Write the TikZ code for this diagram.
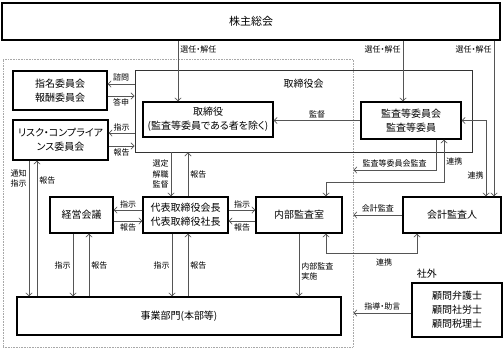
\documentclass[tikz,border=0pt]{standalone}
\usepackage{fontspec}
\setmainfont[RawFeature=+palt]{Noto Sans CJK JP}
\usepackage{xcolor}
\usetikzlibrary{positioning, arrows.meta}
\definecolor{linkgray}{HTML}{555555}
\definecolor{framegray}{HTML}{A8A8A8}
\tikzset{
  orgbox/.style={draw=black, line width=1.1pt, fill=white, align=center, inner sep=0pt,
    font=\fontsize{10}{14}\selectfont},
  link/.style={draw=linkgray, line width=0.7pt, -{Straight Barb[length=3.2pt,width=6.5pt]}},
  link2/.style={link, {Straight Barb[length=3.2pt,width=6.5pt]}-{Straight Barb[length=3.2pt,width=6.5pt]}},
  linklbl/.style={font=\fontsize{8}{10.5}\selectfont, align=center, inner sep=2pt},
}

\begin{document}
\begin{tikzpicture}[x=1pt, y=-1pt]
  \useasboundingbox (0,0) rectangle (504,351);
  % 社内の範囲
  \node[draw=framegray, densely dotted, line width=0.6pt, inner sep=0pt,
    minimum width=350pt, minimum height=288pt] (inside) at (178,203) {};
  \node[orgbox, minimum width=498pt, minimum height=37pt, font=\fontsize{11}{13}\selectfont] (soukai) at (251,21.5) {株主総会};
  \node[draw=black!80, line width=0.8pt, inner sep=0pt, minimum width=337pt, minimum height=82pt] (board) at (303.5,111) {};
  \node[font=\fontsize{10}{12}\selectfont, below=6pt of board.north] (boardlbl) {取締役会};

  \node[orgbox, minimum width=94pt, minimum height=39pt] (nomination) at (60,90.5) {指名委員会\\報酬委員会};
  \node[orgbox, minimum width=130pt, minimum height=35pt] (directors) at (208,119.5) {取締役\\(監査等委員である者を除く)};
  \node[orgbox, minimum width=100pt, minimum height=37pt] (auditcom) at (411,120.5) {監査等委員会\\監査等委員};
  \node[orgbox, minimum width=95pt, minimum height=40pt] (risk) at (60.5,140) {リスク・コンプライア\\ンス委員会};
  \node[orgbox, minimum width=63pt, minimum height=36pt] (mgmt) at (81.5,215) {経営会議};
  \node[orgbox, minimum width=85pt, minimum height=36pt] (ceo) at (185.5,215) {代表取締役会長\\代表取締役社長};
  \node[orgbox, minimum width=86pt, minimum height=36pt] (internal) at (299,215) {内部監査室};
  \node[orgbox, minimum width=98pt, minimum height=36pt] (accountant) at (452,215) {会計監査人};
  \node[orgbox, minimum width=324pt, minimum height=38pt] (business) at (179,316) {事業部門(本部等)};
  \node[orgbox, minimum width=90pt, minimum height=54pt] (advisors) at (457,310) {顧問弁護士\\顧問社労士\\顧問税理士};
  \node[font=\fontsize{10}{12}\selectfont, above right=1pt and 2pt of advisors.north west] (outside) {社外};

  % 株主総会から
  \draw[link] ([xshift=-30pt]directors.north |- soukai.south) -- node[linklbl, right, pos=.15] {選任・解任} ([xshift=-30pt]directors.north);
  \draw[link] ([xshift=-8pt]auditcom.north |- soukai.south) -- node[linklbl, left, pos=.15] {選任・解任} ([xshift=-8pt]auditcom.north);
  \draw[link] ([xshift=42pt]accountant.north |- soukai.south) -- node[linklbl, left, pos=.06] {選任・解任} ([xshift=42pt]accountant.north);

  % 取締役会と委員会
  \draw[link] ([yshift=27pt]board.west) -- node[linklbl, above] {諮問} ([yshift=27pt]board.west -| nomination.east);
  \draw[link] ([yshift=-5.5pt]nomination.east) -- node[linklbl, below] {答申} ([yshift=-5.5pt]nomination.east -| board.west);
  \draw[link] ([yshift=-22pt]board.west) -- node[linklbl, above] {指示} ([yshift=-22pt]board.west -| risk.east);
  \draw[link] ([yshift=-6pt]risk.east) -- node[linklbl, below] {報告} ([yshift=-6pt]risk.east -| board.west);

  % 監査等委員会
  \draw[link] (auditcom.west) -- node[linklbl, above] {監督} (auditcom.west -| directors.east);
  \draw[link2] ([xshift=34pt]accountant.north) |- node[linklbl, left, pos=.14] {連携} (auditcom.east);
  \draw[link] ([xshift=25pt]auditcom.south) |- node[linklbl, above, pos=.75] {監査等委員会監査} ([yshift=33pt]inside.east);
  \draw[link2] ([xshift=33pt]auditcom.south) -- node[linklbl, right] {連携} ++(0,43) -| ([xshift=27pt]internal.north);

  % 会計監査人・内部監査室
  \draw[link] (accountant.west) -- node[linklbl, above] {会計監査} (accountant.west -| inside.east);
  \draw[link2] ([xshift=27pt]internal.south) -- ++(0,20) -| node[linklbl, below=3pt, pos=.32] {連携} ([xshift=-35pt]accountant.south);
  \draw[link] (internal.south) -- node[linklbl, right, pos=.6, align=left] {内部監査\\実施} (internal.south |- business.north);
  \draw[link] ([yshift=-3pt]advisors.west) -- node[linklbl, above] {指導・助言} ([yshift=-3pt]advisors.west -| inside.east);

  % 代表取締役
  \draw[link] ([xshift=-14.5pt]ceo.north |- board.south) -- node[linklbl, left] {選定\\解職\\監督} ([xshift=-14.5pt]ceo.north);
  \draw[link] ([xshift=2.5pt]ceo.north) -- node[linklbl, right] {報告} ([xshift=2.5pt]ceo.north |- board.south);
  \draw[link] ([yshift=5pt]ceo.west) -- node[linklbl, above] {指示} ([yshift=5pt]ceo.west -| mgmt.east);
  \draw[link] ([yshift=-6pt]mgmt.east) -- node[linklbl, below] {報告} ([yshift=-6pt]mgmt.east -| ceo.west);
  \draw[link] ([yshift=5pt]ceo.east) -- node[linklbl, above] {指示} ([yshift=5pt]ceo.east -| internal.west);
  \draw[link] ([yshift=-6pt]internal.west) -- node[linklbl, below] {報告} ([yshift=-6pt]internal.west -| ceo.east);

  % 事業部門へ
  \draw[link] ([xshift=-8.5pt]mgmt.south) -- node[linklbl, left] {指示} ([xshift=-8.5pt]mgmt.south |- business.north);
  \draw[link] ([xshift=7.5pt]mgmt.south |- business.north) -- node[linklbl, right] {報告} ([xshift=7.5pt]mgmt.south);
  \draw[link] ([xshift=-13.5pt]ceo.south) -- node[linklbl, left] {指示} ([xshift=-13.5pt]ceo.south |- business.north);
  \draw[link] ([xshift=2.5pt]ceo.south |- business.north) -- node[linklbl, right] {報告} ([xshift=2.5pt]ceo.south);
  \draw[link] ([xshift=-31.5pt]risk.south) -- node[linklbl, left, pos=.13] {通知\\指示} ([xshift=-31.5pt]risk.south |- business.north);
  \draw[link] ([xshift=-23.5pt]risk.south |- business.north) -- node[linklbl, right, pos=.85] {報告} ([xshift=-23.5pt]risk.south);
\end{tikzpicture}
\end{document}
